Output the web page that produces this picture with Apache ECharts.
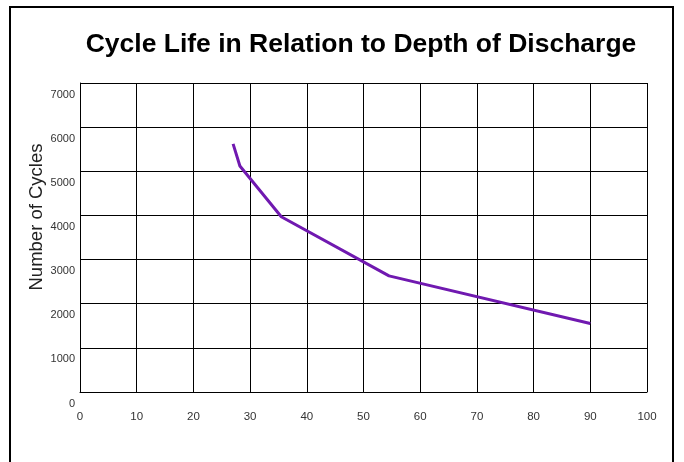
<!DOCTYPE html>
<html>
<head>
<meta charset="utf-8">
<script src="https://cdn.jsdelivr.net/npm/echarts@6/dist/echarts.min.js"></script>
<style>
  html, body { margin: 0; padding: 0; background: #fff; }
  #chart { width: 684px; height: 462px; }
</style>
</head>
<body>
<div id="chart"></div>
<script>
// depth of discharge (%) vs number of cycles
const depth = [27, 28.2, 35.5, 54.5, 90]
const cycles = [5620, 5120, 3970, 2630, 1550]
const xTicks = [0, 10, 20, 30, 40, 50, 60, 70, 80, 90, 100]
const yTicks = [0, 1000, 2000, 3000, 4000, 5000, 6000, 7000]

const chart = echarts.init(document.getElementById('chart'))
const font = 'Liberation Sans, Arial, sans-serif'

const option = {
  animation: false,
  title: {
    text: 'Cycle Life in Relation to Depth of Discharge',
    left: 356,
    top: 26,
    textAlign: 'center',
    textStyle: { fontFamily: font, fontSize: 26.5, fontWeight: 'bold', color: '#000' }
  },
  grid: { left: 80, right: 37, top: 83, bottom: 70 },
  xAxis: {
    type: 'value',
    min: xTicks[0],
    max: xTicks[xTicks.length - 1],
    interval: 10,
    axisLine: { show: true, lineStyle: { color: '#000', width: 1 } },
    axisTick: { show: false },
    splitLine: { show: true, lineStyle: { color: '#000', width: 1 } },
    axisLabel: { margin: 19, fontFamily: font, fontSize: 11.5, color: '#333', formatter: (v) => String(v) }
  },
  yAxis: {
    type: 'value',
    min: yTicks[0],
    max: yTicks[yTicks.length - 1],
    interval: 1000,
    axisLine: { show: true, lineStyle: { color: '#000', width: 1 } },
    axisTick: { show: false },
    splitLine: { show: true, lineStyle: { color: '#000', width: 1 } },
    axisLabel: {
      margin: 5,
      fontFamily: font,
      fontSize: 11,
      color: '#333',
      verticalAlign: 'top',
      padding: [6, 0, 0, 0],
      formatter: (v) => String(v)
    }
  },
  graphic: [
    {
      type: 'rect',
      shape: { x: 10, y: 7, width: 663, height: 470 },
      style: { fill: 'none', stroke: '#000', lineWidth: 2 },
      silent: true
    },
    {
      type: 'text',
      x: 37,
      y: 217,
      rotation: Math.PI / 2,
      style: {
        text: 'Number of Cycles',
        fontFamily: font,
        fontSize: 18.5,
        fill: '#222',
        align: 'center',
        verticalAlign: 'middle'
      }
    }
  ],
  series: [
    {
      type: 'line',
      data: depth.map((d, i) => [d, cycles[i]]),
      symbol: 'none',
      lineStyle: { color: '#7019b0', width: 3 },
      emphasis: { disabled: true }
    }
  ]
}
chart.setOption(option)
</script>
</body>
</html>
